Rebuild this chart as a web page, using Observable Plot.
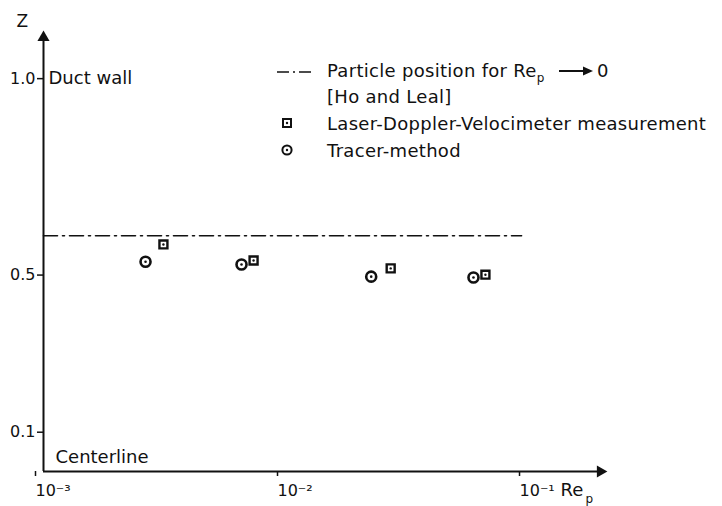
<!DOCTYPE html>
<html><head><meta charset="utf-8">
<script src="https://cdn.jsdelivr.net/npm/d3@7"></script>
<script src="https://cdn.jsdelivr.net/npm/@observablehq/plot@0.6"></script>
<style>
body{margin:0;background:#fff;}
#wrap{position:relative;width:722px;height:506px;font-family:"DejaVu Sans",sans-serif;color:#111;overflow:hidden;}
#wrap svg{display:block;}
.leg{position:absolute;font-size:18px;letter-spacing:0.3px;white-space:nowrap;line-height:18px;}
.sub{font-size:12px;position:relative;top:5px;}
.ico{position:absolute;}
</style></head><body><div id="wrap"></div>
<script>
// Data
const ldvRe    = [0.00313, 0.00738, 0.0272, 0.0670];
const ldvZ     = [0.578, 0.537, 0.517, 0.501];
const tracerRe = [0.00264, 0.00658, 0.0226, 0.0598];
const tracerZ  = [0.534, 0.527, 0.496, 0.494];
const hoLealZ  = 0.600;
const hoLealRe = [0.001, 0.0945];
const xTicks   = [0.001, 0.01, 0.1];
const yTicks   = [0.1, 0.5, 1.0];
const legendLabels = ["Particle position for Re", "[Ho and Leal]", "Laser-Doppler-Velocimeter measurement", "Tracer-method"];

const ldv = ldvRe.map((re, i) => ({re, z: ldvZ[i]}));
const tracer = tracerRe.map((re, i) => ({re, z: tracerZ[i]}));
const hoLeal = hoLealRe.map(re => ({re, z: hoLealZ}));

const supMap = {"-": "\u207B", "0": "\u2070", "1": "\u00B9", "2": "\u00B2", "3": "\u00B3", "4": "\u2074", "5": "\u2075"};
const powFmt = d => "10" + String(Math.round(Math.log10(d))).split("").map(c => supMap[c]).join("");

const ink = "#111";
const chart = Plot.plot({
  width: 722, height: 506,
  marginLeft: 43, marginRight: 117, marginTop: 31, marginBottom: 35,
  x: {type: "log", domain: [0.001, 0.21]},
  y: {domain: [0, 1.12]},
  style: {fontFamily: "DejaVu Sans", fontSize: "16px", color: ink, background: "white"},
  marks: [
    Plot.ruleX([0.001], {y1: 0, y2: 1.10, stroke: ink, strokeWidth: 2}),
    Plot.dot([0.001], {x: d => d, y: () => 1.105, symbol: "triangle", r: 4.5, fill: ink}),
    Plot.ruleY([0], {x1: 0.001, x2: 0.195, stroke: ink, strokeWidth: 2}),
    Plot.dot([0], {x: () => 0.2, y: d => d, symbol: "triangle", rotate: 90, r: 4.5, fill: ink}),
    Plot.axisY({ticks: yTicks, tickFormat: d => d.toFixed(1), tickSize: 6, tickPadding: 2, fontSize: 16, label: null, strokeWidth: 1.5}),
    Plot.axisX({ticks: xTicks, tickFormat: powFmt, tickSize: 5, tickPadding: 8, fontSize: 16, label: null, textAnchor: "start", dx: -8, strokeWidth: 1.5}),
    Plot.text(["Z"], {frameAnchor: "top-left", dx: -27, dy: -17, fontSize: 17, text: d => d}),
    Plot.text(["Re"], {frameAnchor: "bottom-right", dx: -45, dy: 24, fontSize: 18, textAnchor: "start", text: d => d}),
    Plot.text(["p"], {frameAnchor: "bottom-right", dx: -20, dy: 31, fontSize: 12, textAnchor: "start", text: d => d}),
    Plot.text(["Duct wall"], {x: () => 0.001, y: () => 1.0, dx: 5, textAnchor: "start", fontSize: 18, text: d => d}),
    Plot.text(["Centerline"], {x: () => 0.001, y: () => 0, dx: 12, dy: -14, textAnchor: "start", fontSize: 18, text: d => d}),
    Plot.line(hoLeal, {x: "re", y: "z", stroke: ink, strokeWidth: 1.6, strokeDasharray: "14,5,2,5"}),
    Plot.dot(ldv, {x: "re", y: "z", symbol: "square", r: 4.5, stroke: ink, strokeWidth: 2.4, fill: "white"}),
    Plot.dot(ldv, {x: "re", y: "z", r: 1.2, fill: ink}),
    Plot.dot(tracer, {x: "re", y: "z", symbol: "circle", r: 5, stroke: ink, strokeWidth: 2.6, fill: "white"}),
    Plot.dot(tracer, {x: "re", y: "z", r: 1.3, fill: ink})
  ]
});
const wrap = document.getElementById("wrap");
wrap.appendChild(chart);

// Legend (HTML overlay)
function add(html, cls, left, top) {
  const el = document.createElement("div");
  el.className = cls; el.style.left = left + "px"; el.style.top = top + "px";
  el.innerHTML = html; wrap.appendChild(el); return el;
}
add(`<svg width="36" height="6"><line x1="0" y1="3" x2="34" y2="3" stroke="${ink}" stroke-width="1.6" stroke-dasharray="12,4,2,4"/></svg>`, "ico", 277, 69);
add(`${legendLabels[0]}<span class="sub">p</span>`, "leg", 327, 62);
add(`<svg width="40" height="12"><line x1="0" y1="6" x2="26" y2="6" stroke="${ink}" stroke-width="2"/><polygon points="24,1.5 34,6 24,10.5" fill="${ink}"/></svg>`, "ico", 559, 65);
add(`0`, "leg", 597, 62);
add(legendLabels[1], "leg", 327, 88);
add(`<svg width="12" height="12"><rect x="2" y="2" width="8" height="8" fill="white" stroke="${ink}" stroke-width="2"/><circle cx="6" cy="6" r="1.2" fill="${ink}"/></svg>`, "ico", 281, 117);
add(legendLabels[2], "leg", 327, 115);
add(`<svg width="14" height="14"><circle cx="7" cy="7" r="4.6" fill="white" stroke="${ink}" stroke-width="2"/><circle cx="7" cy="7" r="1.2" fill="${ink}"/></svg>`, "ico", 280, 143);
add(legendLabels[3], "leg", 327, 142);
</script>
</body></html>
